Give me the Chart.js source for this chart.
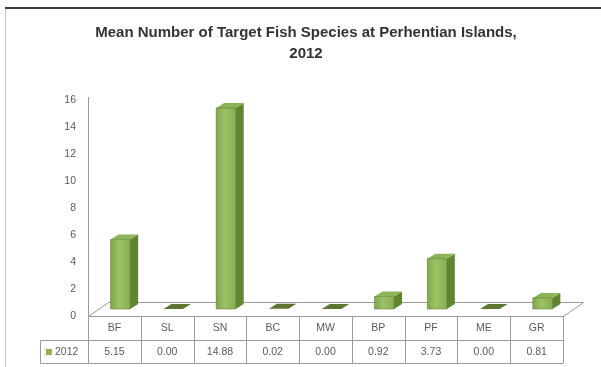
<!DOCTYPE html>
<html>
<head>
<meta charset="utf-8">
<script src="https://cdn.jsdelivr.net/npm/chart.js@4"></script>
<style>
  html, body { margin: 0; padding: 0; background: #fff; }
  #wrap { width: 601px; height: 367px; position: relative; }
</style>
</head>
<body>
<div id="wrap"><canvas id="fishChart"></canvas></div>
<script>
const titleLines = ['Mean Number of Target Fish Species at Perhentian Islands,', '2012'];
const categories = ['BF', 'SL', 'SN', 'BC', 'MW', 'BP', 'PF', 'ME', 'GR'];
const seriesName = '2012';
const values2012 = [5.15, 0.00, 14.88, 0.02, 0.00, 0.92, 3.73, 0.00, 0.81];
const yTicks = [0, 2, 4, 6, 8, 10, 12, 14, 16];

const FONT = '"Liberation Sans", Arial, sans-serif';
const TEXT = '#5a5a5a';
const LINE = '#9a9a9a';

// floor depth and the recess of the bars into it
const FLOOR_DX = 20, FLOOR_DY = -14;
const BAR_DX = 6, BAR_DY = -7;
const BAR_DEPTH_X = 8, BAR_DEPTH_Y = -5;

function poly(ctx, pts, fill, stroke) {
  ctx.beginPath();
  ctx.moveTo(pts[0][0], pts[0][1]);
  for (let i = 1; i < pts.length; i++) ctx.lineTo(pts[i][0], pts[i][1]);
  ctx.closePath();
  if (fill) { ctx.fillStyle = fill; ctx.fill(); }
  if (stroke) { ctx.strokeStyle = stroke; ctx.lineWidth = 1; ctx.stroke(); }
}

// frame, title, floor and value axis
const backdrop = {
  id: 'backdrop',
  beforeDatasetsDraw(chart) {
    const ctx = chart.ctx;
    const x = chart.scales.x, y = chart.scales.y;
    const left = x.left, right = x.right, base = y.getPixelForValue(0);
    ctx.save();

    // outer frame
    ctx.fillStyle = '#3c3c3c';
    ctx.fillRect(5, 7, chart.width - 5, 2);
    ctx.fillStyle = '#c8c8c8';
    ctx.fillRect(5, 9, 1, chart.height - 9);

    // title
    ctx.fillStyle = '#333333';
    ctx.font = 'bold 15px ' + FONT;
    ctx.textAlign = 'center';
    ctx.textBaseline = 'middle';
    ctx.fillText(titleLines[0], 306, 33);
    ctx.fillText(titleLines[1], 306, 54);

    // floor
    ctx.lineWidth = 1;
    ctx.strokeStyle = LINE;
    ctx.beginPath();
    ctx.moveTo(left + 0.5, base + 0.5);
    ctx.lineTo(left + FLOOR_DX + 0.5, base + FLOOR_DY + 0.5);
    ctx.lineTo(right + FLOOR_DX + 0.5, base + FLOOR_DY + 0.5);
    ctx.lineTo(right + 0.5, base + 0.5);
    ctx.stroke();

    // value axis line and tick labels
    ctx.beginPath();
    ctx.moveTo(left + 0.5, y.getPixelForValue(16) - 3);
    ctx.lineTo(left + 0.5, base);
    ctx.stroke();
    ctx.fillStyle = TEXT;
    ctx.font = '10.5px ' + FONT;
    ctx.textAlign = 'right';
    yTicks.forEach(t => ctx.fillText(String(t), left - 12, y.getPixelForValue(t)));
    ctx.restore();
  }
};

// 3D bars built from the bar elements, plus the data table below
const bars3d = {
  id: 'bars3d',
  afterDatasetsDraw(chart) {
    const ctx = chart.ctx;
    const meta = chart.getDatasetMeta(0);
    ctx.save();
    meta.data.forEach(el => {
      const w = el.width;
      const x0 = el.x - w / 2 + BAR_DX, x1 = el.x + w / 2 + BAR_DX;
      const top = el.y + BAR_DY, bottom = el.base + BAR_DY;
      const flat = bottom - top < 1;
      // side
      if (!flat) {
        poly(ctx, [[x1, top], [x1 + BAR_DEPTH_X, top + BAR_DEPTH_Y],
          [x1 + BAR_DEPTH_X, bottom + BAR_DEPTH_Y], [x1, bottom]], '#5f8530', null);
        const g = ctx.createLinearGradient(x0, 0, x1, 0);
        g.addColorStop(0, '#80a84a');
        g.addColorStop(0.45, '#9dc266');
        g.addColorStop(1, '#86ae4f');
        poly(ctx, [[x0, top], [x1, top], [x1, bottom], [x0, bottom]], g, null);
      }
      // top
      poly(ctx, [[x0, top], [x0 + BAR_DEPTH_X, top + BAR_DEPTH_Y],
        [x1 + BAR_DEPTH_X, top + BAR_DEPTH_Y], [x1, top]],
        flat ? '#5c7531' : '#8db457', null);
      ctx.strokeStyle = 'rgba(80,110,40,0.6)';
      ctx.lineWidth = 0.8;
      if (!flat) ctx.strokeRect(x0, top, w, bottom - top);
    });

    // data table
    const x = chart.scales.x, y = chart.scales.y;
    const left = x.left, right = x.right, rowTop = y.getPixelForValue(0);
    const rowMid = rowTop + 24, rowBottom = rowTop + 47, legendLeft = 40;
    ctx.strokeStyle = LINE;
    ctx.lineWidth = 1;
    ctx.beginPath();
    ctx.moveTo(left + 0.5, rowTop); ctx.lineTo(left + 0.5, rowBottom);
    ctx.moveTo(legendLeft + 0.5, rowMid + 0.5); ctx.lineTo(right, rowMid + 0.5);
    ctx.moveTo(legendLeft + 0.5, rowBottom + 0.5); ctx.lineTo(right, rowBottom + 0.5);
    ctx.moveTo(legendLeft + 0.5, rowMid + 0.5); ctx.lineTo(legendLeft + 0.5, rowBottom + 0.5);
    ctx.moveTo(right + 0.5, rowTop); ctx.lineTo(right + 0.5, rowBottom + 0.5);
    ctx.moveTo(left, rowTop + 0.5); ctx.lineTo(right, rowTop + 0.5);
    categories.forEach((c, i) => {
      if (i === 0) return;
      const bx = Math.round((x.getPixelForValue(i - 1) + x.getPixelForValue(i)) / 2) + 0.5;
      ctx.moveTo(bx, rowTop); ctx.lineTo(bx, rowBottom);
    });
    ctx.stroke();

    ctx.fillStyle = TEXT;
    ctx.font = '10.5px ' + FONT;
    ctx.textAlign = 'center';
    ctx.textBaseline = 'middle';
    categories.forEach((c, i) => {
      const cx = x.getPixelForValue(i);
      ctx.fillText(c, cx, rowTop + 12);
      ctx.fillText(values2012[i].toFixed(2), cx, rowMid + 12);
    });
    ctx.fillStyle = '#8db457';
    ctx.fillRect(legendLeft + 6, rowMid + 9, 6, 6);
    ctx.fillStyle = TEXT;
    ctx.textAlign = 'left';
    ctx.fillText(seriesName, legendLeft + 15, rowMid + 12);
    ctx.restore();
  }
};

new Chart(document.getElementById('fishChart'), {
  type: 'bar',
  data: {
    labels: categories,
    datasets: [{
      label: seriesName,
      data: values2012,
      backgroundColor: 'rgba(0,0,0,0)',
      borderWidth: 0,
      categoryPercentage: 1,
      barPercentage: 0.37
    }]
  },
  options: {
    responsive: true,
    maintainAspectRatio: false,
    animation: false,
    layout: { padding: { left: 88, right: 38, top: 100, bottom: 51 } },
    plugins: { legend: { display: false }, title: { display: false }, tooltip: { enabled: false } },
    scales: {
      x: { display: false, offset: true },
      y: { display: false, min: 0, max: 16 }
    }
  },
  plugins: [backdrop, bars3d]
});
</script>
</body>
</html>
